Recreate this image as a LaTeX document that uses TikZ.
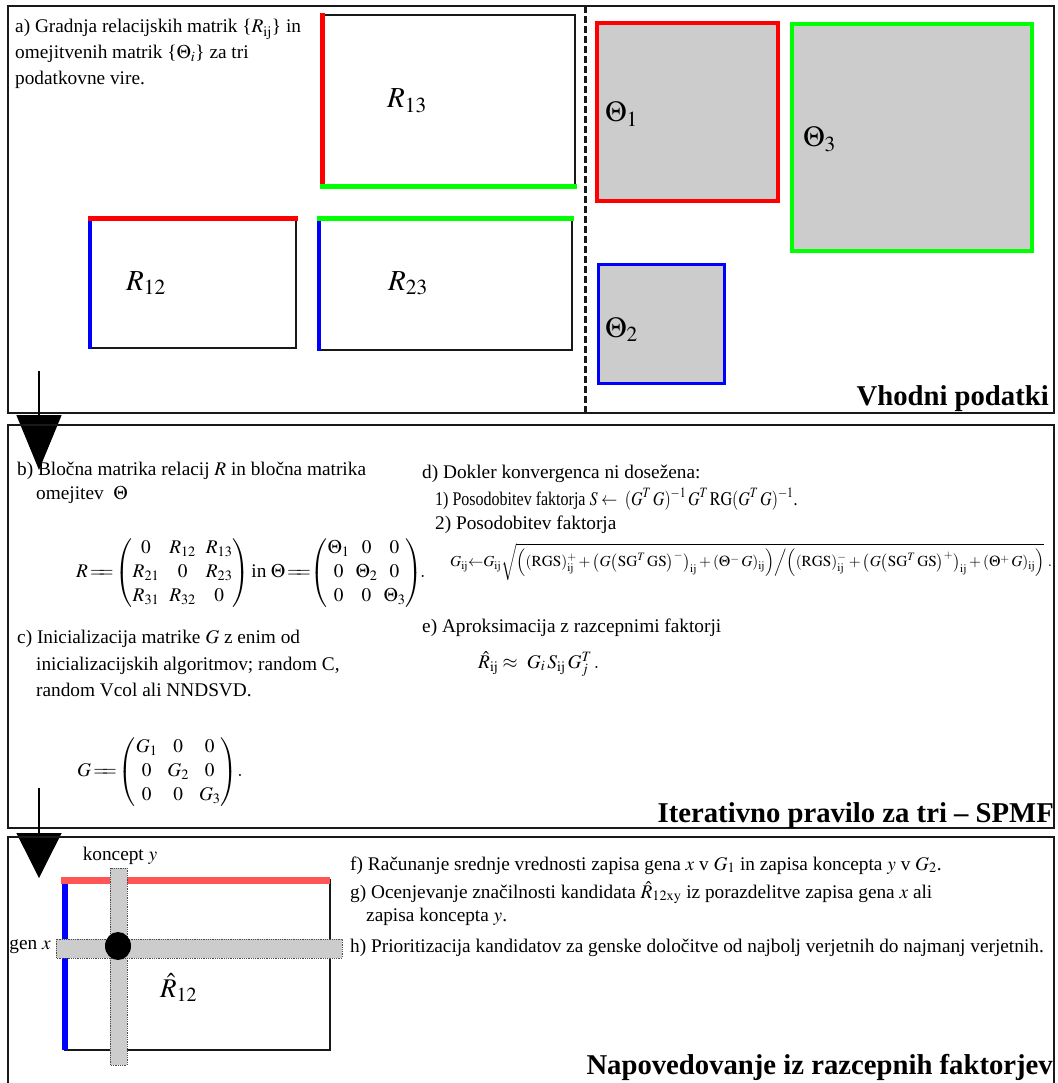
\documentclass[tikz,border=0pt]{standalone}
\usepackage{amsmath}
\usepackage{mathptmx}
\usepackage{graphicx}
\usepackage{fontspec}
\setmainfont{Liberation Serif}
\usepackage{tikz}
\usetikzlibrary{arrows.meta,positioning,calc,shapes.geometric}
\definecolor{cRed}     {RGB}{255,0,0}
\definecolor{cGreen}   {RGB}{0,255,0}
\definecolor{cBlue}    {RGB}{0,0,255}
\definecolor{cFill}    {RGB}{204,204,204}
\definecolor{cSoftRed} {RGB}{255,85,85}
\definecolor{cFrame}   {RGB}{25,25,25}
\newcommand\bodytxt{\fontsize{19.3}{26}\selectfont}
\newcommand\titletxt{\fontsize{28.7}{32}\selectfont\bfseries}
\newcommand\sij{\mathrm{ij}}
\newcommand\eqeq{\,{=}\mkern-6mu{=}}
\newcommand\tightmat{\setlength\arraycolsep{5pt}\renewcommand\arraystretch{0.92}}

\begin{document}
\begin{tikzpicture}[
  x=1pt,y=-1pt,
  panel/.style={draw=cFrame,line width=2pt},
  divider/.style={draw=cFrame,line width=3pt,dash pattern=on 7pt off 3pt},
  mbox/.style={draw=cFrame,line width=1.5pt},
  edgeR/.style={cRed,line width=5pt},
  edgeG/.style={cGreen,line width=5pt},
  edgeB/.style={cBlue,line width=4pt},
  theta/.style={fill=cFill,line width=4pt},
  bar/.style={fill=cFill,draw=black!70,densely dotted,line width=0.8pt},
  txt/.style={font=\bodytxt,align=left,anchor=base west,inner sep=0pt},
  big/.style={font=\fontsize{29}{32}\selectfont,inner sep=0pt,anchor=base west},
  title/.style={font=\titletxt,inner sep=0pt,anchor=base east},
  down/.style={-{Triangle[width=45pt,length=#1]},line width=1.5pt},
]
\useasboundingbox (0,0) rectangle (1057,1083);

% --- panel a: input data
% (multi-line nodes sit on the baseline of their last line)
\draw[panel] (8,6) rectangle (1054,413);
\draw[divider] (585,6) -- (585,413);
\node[txt] (ta) at (15,85) {a) Gradnja relacijskih matrik \{$R_{\sij}$\} in\\
  omejitvenih matrik \{$\Theta_i$\} za tri\\ podatkovne vire.};

\draw[mbox] (322,15) rectangle (575,187);
\draw[edgeR] (322,13) -- (322,189);
\draw[edgeG] (320,187) -- (577,187);
\node[big] (r13) at (387,108) {$R_{13}$};

\draw[mbox] (89,219) rectangle (296,348);
\draw[edgeR] (88,219) -- (298,219);
\draw[edgeB] (90,221) -- (90,349);
\node[big] (r12) at (126,290) {$R_{12}$};

\draw[mbox] (318,219) rectangle (572,350);
\draw[edgeG] (317,219) -- (574,219);
\draw[edgeB] (319,221) -- (319,351);
\node[big] (r23) at (388,290) {$R_{23}$};

\draw[theta,draw=cRed]   (597,23) rectangle (778,201);
\draw[theta,draw=cGreen] (792,24) rectangle (1032,251);
\draw[theta,draw=cBlue,line width=3pt] (598,264) rectangle (724,383);
\node[big] (th1) at (605,122) {$\Theta_1$};
\node[big] (th3) at (803,147) {$\Theta_3$};
\node[big] (th2) at (605,337) {$\Theta_2$};

\node[title] (tin) at (1049,405) {Vhodni podatki};

\coordinate (a1s) at (39,371);
\coordinate (a1e) at (39,470);
\draw[down=55pt] (a1s) -- (a1e);

% --- panel b-e: iterative rule
\draw[panel] (8,425) rectangle (1054,828);
\node[txt] (tb) at (17,499) {b) Bločna matrika relacij $R$ in bločna matrika\\[-2pt]
  \hspace*{19pt}omejitev \ $\Theta$};
\node[font=\bodytxt,inner sep=0pt,anchor=west] (mR) at (76,573)
  {\tightmat$R\eqeq\begin{pmatrix} 0 & R_{12} & R_{13}\\ R_{21} & 0 & R_{23}\\ R_{31} & R_{32} & 0\end{pmatrix}
   \text{in}\;\Theta\eqeq{\setlength\arraycolsep{3pt}\begin{pmatrix}\Theta_1 & 0 & 0\\ 0 & \Theta_2 & 0\\ 0 & 0 & \Theta_3\end{pmatrix}}\!.$};
\node[txt] (tc) at (17,696) {c) Inicializacija matrike $G$ z enim od\\[1pt]
  \hspace*{19pt}inicializacijskih algoritmov; random C,\\
  \hspace*{19pt}random Vcol ali NNDSVD.};
\node[font=\bodytxt,inner sep=0pt,anchor=west] (mG) at (77,772)
  {\tightmat$G\eqeq\begin{pmatrix} G_1 & 0 & 0\\ 0 & G_2 & 0\\ 0 & 0 & G_3\end{pmatrix}\!.$};

\node[txt] (td) at (422,529) {d) Dokler konvergenca ni dosežena:\\[1pt]
  \hspace*{13pt}\scalebox{0.83}[1]{1) Posodobitev faktorja $S \leftarrow\ (G^T\,G)^{-1}\,G^T\,\mathrm{RG}(G^T\,G)^{-1}$.}\\[-2pt]
  \hspace*{13pt}2) Posodobitev faktorja};
\node[font=\fontsize{15.3}{17}\selectfont,inner sep=0pt,anchor=west] (fG) at (450,562)
  {$G_{\sij}{\leftarrow}G_{\sij}\sqrt{\Bigl((\mathrm{RGS})^{+}_{\sij}+\bigl(G\bigl(\mathrm{SG}^{T}\,\mathrm{GS}\bigr)^{-}\bigr)_{\sij}+(\Theta^{-}\,G)_{\sij}\Bigr)\Big/\Bigl((\mathrm{RGS})^{-}_{\sij}+\bigl(G\bigl(\mathrm{SG}^{T}\,\mathrm{GS}\bigr)^{+}\bigr)_{\sij}+(\Theta^{+}\,G)_{\sij}\Bigr)}\;.$};
\node[txt] (te) at (422,632) {e) Aproksimacija z razcepnimi faktorji};
\node[txt] (fe) at (478,668) {$\hat{R}_{\sij} \approx\ G_i\,S_{\sij}\,G_j^T\,.$};

\node[title] (tit) at (1054,822) {Iterativno pravilo za tri -- SPMF};

\coordinate (a2s) at (39,788);
\coordinate (a2e) at (39,878);
\draw[down=45pt] (a2s) -- (a2e);

% --- panel f-h: prediction
\draw[panel] (8,837) rectangle (1054,1100);
\draw[mbox] (65,880) rectangle (330,1050);
\draw[cSoftRed,line width=7pt] (61,880) -- (330,880);
\draw[cBlue,line width=6pt] (65,884) -- (65,1050);
\draw[bar] (110,868) rectangle (127,1065);
\draw[bar] (56,939) rectangle (342,958);
\node[fill=black,ellipse,minimum width=26pt,minimum height=28pt,inner sep=0pt] (hit) at (118,946) {};
\node[font=\bodytxt,inner sep=0pt,anchor=base] (ky) at (120,860) {koncept $y$};
\node[font=\bodytxt,inner sep=0pt,anchor=base east] (gx) at (51,949) {gen $x$};
\node[font=\fontsize{27}{30}\selectfont,inner sep=0pt,anchor=base west] (r12h) at (160,997) {$\hat{R}_{12}$};

\node[txt] (tf) at (350,870) {f) Računanje srednje vrednosti zapisa gena $x$ v $G_1$ in zapisa koncepta $y$ v $G_2$.};
\node[txt] (tg) at (350,921) {g) Ocenjevanje značilnosti kandidata $\hat{R}_{\mathrm{12xy}}$ iz porazdelitve zapisa gena $x$ ali\\[-3pt]
  \hspace*{16pt}zapisa koncepta $y$.};
\node[txt] (th) at (350,952) {h) Prioritizacija kandidatov za genske določitve od najbolj verjetnih do najmanj verjetnih.};

\node[title] (tnap) at (1053,1074) {Napovedovanje iz razcepnih faktorjev};
\end{tikzpicture}
\end{document}
